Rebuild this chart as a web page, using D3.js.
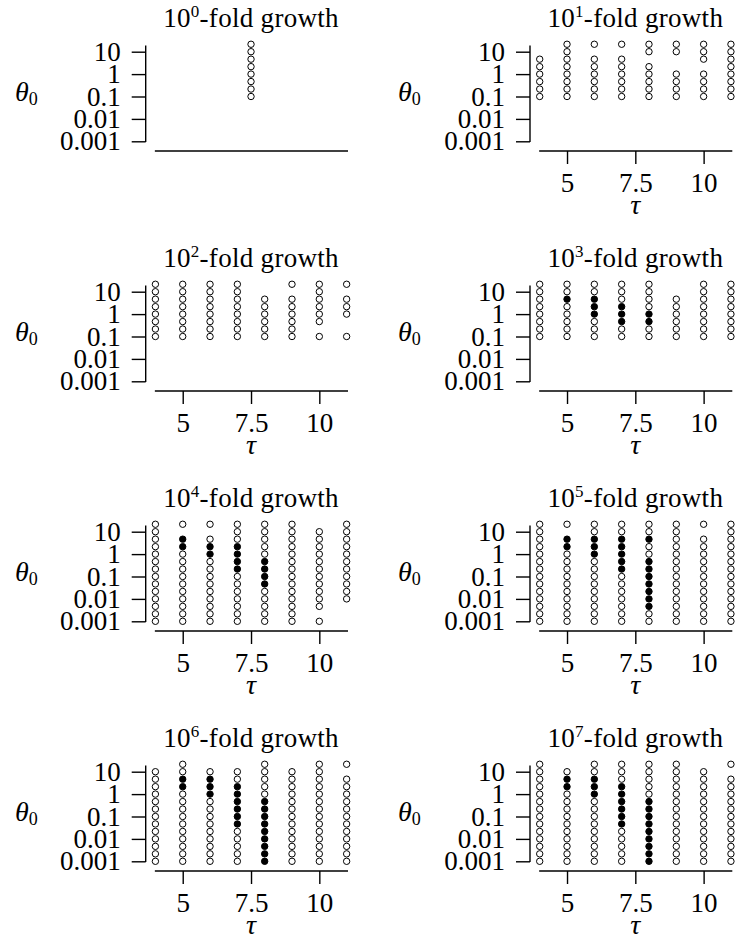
<!DOCTYPE html>
<html>
<head>
<meta charset="utf-8">
<script src="https://cdn.jsdelivr.net/npm/d3@7"></script>
<style>
  body { margin: 0; background: #fff; }
  svg text { fill: #000; font-family: "Liberation Serif", "Times New Roman", serif !important; }
</style>
</head>
<body>
<svg id="chart" width="736" height="946"></svg>
<script>
const tauValues = [4, 5, 6, 7, 8, 9, 10, 11];
const growth0Tau = [7.5];
// theta0 grid, roughly three steps per decade
const theta0Levels = [0.001, 0.00215, 0.00464, 0.01, 0.0215, 0.0464, 0.1, 0.215, 0.464, 1, 2.15, 4.64, 10, 21.5];
const yTickValues = [10, 1, 0.1, 0.01, 0.001];
const yTickLabels = ["10", "1", "0.1", "0.01", "0.001"];
const xTickValues = [5, 7.5, 10];
const xTickLabels = ["5", "7.5", "10"];
const foldExponents = [0, 1, 2, 3, 4, 5, 6, 7];

// one string per tau column, char i -> theta0Levels[i]
// "." = no run, "o" = open circle, "x" = filled circle
const growth0 = ["......oooooooo"];
const growth1 = ["......oooooo..", "......oooooooo", "......oooooo.o", "......oooooo.o",
                 "......ooooo.oo", "......oooo..oo", "......oooo.ooo", "......oooooooo"];
const growth2 = ["......oooooooo", "......oooooooo", "......oooooooo", "......oooooooo",
                 "......oooooo..", "......oooooo.o", "......o.oooooo", "......o..ooo.o"];
const growth3 = ["......oooooooo", "......oooooxoo", "......oooxxxoo", "......ooxxxooo",
                 "......ooxxoooo", "......oooooo..", "......oooooooo", "......oooooooo"];
const growth4 = ["oooooooooooooo", "ooooooooooxx.o", "oooooooooxxo.o", "oooooooxxxxooo",
                 "oooooxxxxooooo", "oooooooooooooo", "o.ooooooooooo.", "...ooooooooooo"];
const growth5 = ["oooooooooooooo", "ooooooooooxx.o", "oooooooooxxxoo", "oooooooxxxxxoo",
                 "ooxxxxxxxooxoo", "oooooooooooooo", "oooooooooooo.o", "oooooooooooooo"];
const growth6 = ["ooooooooooooo.", "ooooooooooxxoo", "oooooooooxxxo.", "oooooxxxxxxoo.",
                 "xxxxxxxxxooooo", "ooooooooooooo.", "oooooooooooooo", "oooooooooooo.o"];
const growth7 = ["oooooooooooooo", "ooooooooooxxo.", "oooooooooxxxoo", "oooooxxxxxxooo",
                 "xxxxxxxxxooooo", "oooooooooooooo", "ooooooooooooo.", "oooooooooooo.o"];

const panels = [growth0, growth1, growth2, growth3, growth4, growth5, growth6, growth7];

const svg = d3.select("#chart");
const panelLeft = [155.4, 539.7];   // x of tau = 4 in each column
const unitWidth = 27.32;
const decade = 22.4;
const fontSize = 27;

panels.forEach((cols, i) => {
  const row = Math.floor(i / 2), col = i % 2;
  const y10 = 51.7 + 240 * row;

  const x = d3.scaleLinear().domain([4, 11])
              .range([panelLeft[col], panelLeft[col] + 7 * unitWidth]);
  const y = d3.scaleLog().domain([0.001, 10])
              .range([y10 + 4 * decade, y10]);

  const taus = i === 0 ? growth0Tau : tauValues;
  const points = [];
  cols.forEach((s, c) => {
    s.split("").forEach((ch, k) => {
      if (ch !== ".") points.push({ tau: taus[c], theta: theta0Levels[k], filled: ch === "x" });
    });
  });

  const g = svg.append("g");

  // y axis, spine pushed out to the left
  const yAxisX = x(4) - 9.7;
  const yAxis = g.append("g")
    .attr("transform", `translate(${yAxisX},0)`)
    .call(d3.axisLeft(y).tickValues(yTickValues)
            .tickFormat((d, j) => yTickLabels[j])
            .tickSize(14).tickPadding(11));
  yAxis.select(".domain").remove();
  yAxis.attr("font-size", fontSize);
  yAxis.selectAll("line").attr("stroke-width", 1.4);
  g.append("line")
    .attr("x1", yAxisX).attr("x2", yAxisX)
    .attr("y1", y(0.001) + 0.7).attr("y2", y(19))
    .attr("stroke", "#000").attr("stroke-width", 1.4);

  // x axis, spine pushed down
  const xAxisY = y(0.001) + 9.7;
  const xAxis = g.append("g")
    .attr("transform", `translate(0,${xAxisY})`)
    .call(d3.axisBottom(x).tickValues(i === 0 ? [] : xTickValues)
            .tickFormat((d, j) => xTickLabels[j])
            .tickSize(13).tickPadding(9));
  xAxis.select(".domain").remove();
  xAxis.attr("font-size", fontSize);
  xAxis.selectAll("line").attr("stroke-width", 1.4);
  g.append("line")
    .attr("x1", x(3.98)).attr("x2", x(11.05))
    .attr("y1", xAxisY).attr("y2", xAxisY)
    .attr("stroke", "#000").attr("stroke-width", 1.4);

  // dots
  g.selectAll("circle.dot")
    .data(points).enter()
    .append("circle")
    .attr("class", "dot")
    .attr("cx", d => x(d.tau))
    .attr("cy", d => y(d.theta))
    .attr("r", 3.2)
    .attr("fill", d => d.filled ? "#000" : "#fff")
    .attr("stroke", "#000")
    .attr("stroke-width", 1);

  // title
  const title = g.append("text")
    .attr("x", (x(4) + x(11)) / 2)
    .attr("y", y10 - 25)
    .attr("text-anchor", "middle")
    .attr("font-size", 27)
    .attr("letter-spacing", 0.3);
  title.append("tspan").text("10");
  title.append("tspan").attr("font-size", 17).attr("dy", -10).text(foldExponents[i]);
  title.append("tspan").attr("dy", 10).text("-fold growth");

  // theta_0 label
  const yl = g.append("text")
    .attr("x", col === 0 ? 15 : 398)
    .attr("y", y10 + 49)
    .attr("font-size", 28);
  yl.append("tspan").attr("font-style", "italic").text("θ");
  yl.append("tspan").attr("font-size", 18).attr("dy", 4).text("0");

  // tau label
  if (i !== 0) {
    g.append("text")
      .attr("x", x(7.5))
      .attr("y", xAxisY + 63)
      .attr("text-anchor", "middle")
      .attr("font-size", 28)
      .attr("font-style", "italic")
      .text("τ");
  }
});
</script>
</body>
</html>
